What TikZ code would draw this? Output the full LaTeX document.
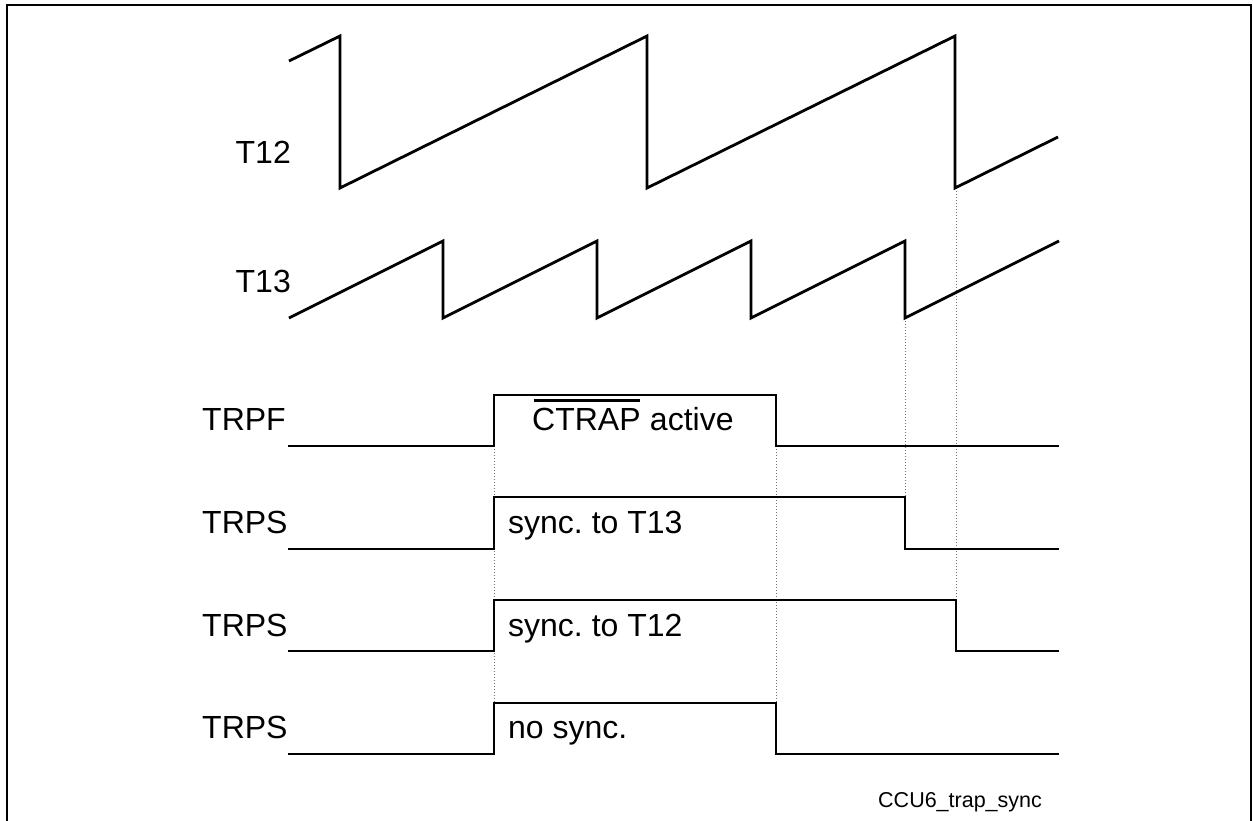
\documentclass[tikz,border=0pt]{standalone}
\usepackage{fontspec}
\setmainfont{Liberation Sans}
\frenchspacing
\begin{document}
\begin{tikzpicture}[x=1pt,y=-1pt,
  wave/.style={line width=2.8pt, line join=miter, line cap=butt},
  frame/.style={line width=2.4pt},
  guide/.style={draw=black!55, line width=1pt, dash pattern=on 1pt off 2pt},
  lbl/.style={inner sep=0pt, font=\fontsize{32}{36}\selectfont},
  foot/.style={inner sep=0pt, font=\fontsize{21.5}{24}\selectfont}]
\useasboundingbox (0,0) rectangle (1253,820);
% frame
\draw[frame] (7,5) -- (1251,5) -- (1251,830) -- (7,830) -- cycle;
% guides (dotted)
\draw[guide] (494,446) -- (494,703);
\draw[guide] (776,446) -- (776,703);
\draw[guide] (905,318) -- (905,497);
\draw[guide] (956,188) -- (956,600);
% T12
\draw[wave] (289,61) -- (340,36) -- (340,188) -- (647,36) -- (647,188) -- (955,36) -- (955,188) -- (1058,137);
% T13
\draw[wave] (289,318) -- (443,241) -- (443,318) -- (597,241) -- (597,318) -- (751,241) -- (751,318) -- (905,241) -- (905,318) -- (1059,241);
% TRPF
\draw[wave] (288,446) -- (494,446) -- (494,395) -- (776,395) -- (776,446) -- (1059,446);
% TRPS sync T13
\draw[wave] (288,549) -- (494,549) -- (494,497) -- (905,497) -- (905,549) -- (1059,549);
% TRPS sync T12
\draw[wave] (288,651) -- (494,651) -- (494,600) -- (956,600) -- (956,651) -- (1059,651);
% TRPS no sync
\draw[wave] (288,754) -- (494,754) -- (494,703) -- (776,703) -- (776,754) -- (1059,754);
% labels
\node[lbl, anchor=base east] (lt12) at (291,163) {T12};
\node[lbl, anchor=base east] (lt13) at (291,292) {T13};
\node[lbl, anchor=base west] (ltrpf) at (202,430) {TRPF};
\node[lbl, anchor=base west] (ltrps1) at (202,533) {TRPS};
\node[lbl, anchor=base west] (ltrps2) at (202,636) {TRPS};
\node[lbl, anchor=base west] (ltrps3) at (202,738) {TRPS};
% pulse texts
\node[lbl, anchor=base west] (ctrap) at (532,430) {CTRAP};
\draw[line width=2.2pt] ([xshift=1.5pt,yshift=7pt]ctrap.north west) -- ([xshift=-0.5pt,yshift=7pt]ctrap.north east);
\node[lbl, anchor=base west] (act) at ([xshift=8.9pt]ctrap.base east) {active};
\node[lbl, anchor=base west] (t13) at (508,533) {sync. to T13};
\node[lbl, anchor=base west] (t12) at (508,636) {sync. to T12};
\node[lbl, anchor=base west] (ns) at (508,738) {no sync.};
\node[foot, anchor=base west] (fn) at (878,807) {CCU6\_trap\_sync};
\end{tikzpicture}
\end{document}
